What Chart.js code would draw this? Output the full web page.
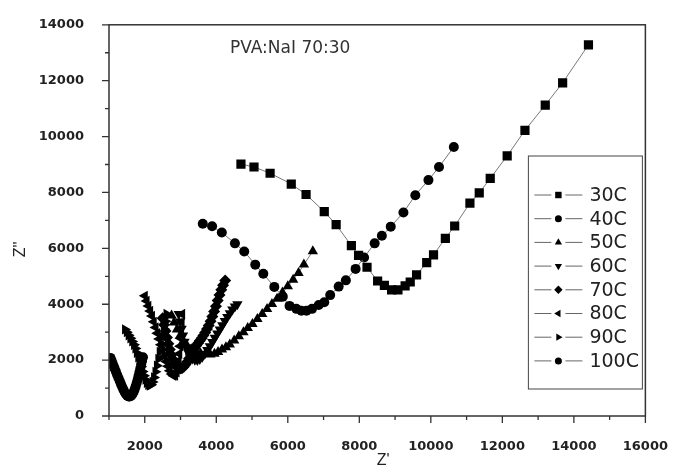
<!DOCTYPE html>
<html>
<head>
<meta charset="utf-8">
<script src="https://cdn.jsdelivr.net/npm/chart.js@4.4.1/dist/chart.umd.min.js"></script>
<style>
  html, body { margin: 0; padding: 0; background: #fff; }
  #wrap { width: 683px; height: 476px; }
</style>
</head>
<body>
<div id="wrap"><canvas id="mycanvas" width="683" height="476"></canvas></div>
<script>
// values (Z' , Z'')
var labels = ["30C", "40C", "50C", "60C", "70C", "80C", "90C", "100C"];
var markers = ["rect", "circle", "triangle", "triangle", "rectRot", "triangle", "triangle", "circle"];
var rotations = [0, 0, 0, 180, 0, 270, 90, 0];

var z30x = [4690,5055,5505,6097,6511,7020,7352,7778,7979,8216,8512,8701,8903,9080,9281,9424,9601,9885,10075,10406,10667,11093,11354,11661,12135,12632,13200,13686,14408];
var z30y = [9017,8911,8688,8301,7926,7316,6847,6097,5745,5323,4831,4678,4514,4514,4655,4795,5053,5487,5769,6355,6800,7621,7985,8501,9310,10224,11127,11924,13284];

var z40x = [3622,3883,4155,4522,4782,5090,5315,5623,5860,6049,6239,6381,6523,6677,6866,7020,7186,7423,7624,7896,8133,8429,8630,8879,9234,9566,9933,10229,10643];
var z40y = [6883,6789,6566,6179,5886,5417,5089,4620,4268,3940,3834,3764,3764,3834,3975,4069,4327,4631,4854,5264,5675,6179,6448,6777,7281,7903,8442,8911,9626];

var z50x = [2750,2820,2900,2990,3080,3180,3300,3430,3560,3700,3834,3950,4050,4160,4270,4378,4500,4630,4760,4880,5012,5150,5285,5420,5557,5700,5850,6000,6150,6300,6450,6700];
var z50y = [3600,3350,3100,2880,2680,2520,2390,2290,2240,2220,2200,2230,2290,2380,2460,2560,2700,2850,3000,3150,3294,3470,3650,3830,4005,4200,4420,4640,4880,5120,5420,5900];

var z60x = [2950,2990,3030,3070,3110,3160,3210,3270,3330,3400,3470,3540,3610,3680,3750,3820,3890,3960,4030,4100,4170,4240,4310,4380,4450,4520,4590];
var z60y = [3650,3380,3120,2880,2660,2450,2280,2150,2060,2010,2000,2040,2120,2230,2360,2500,2650,2800,2950,3100,3250,3400,3540,3680,3810,3920,4000];

var z70x = [2500,2540,2580,2620,2660,2700,2740,2790,2840,2890,2940,2990,3040,3090,3140,3190,3240,3290,3340,3390,3440,3490,3540,3590,3640,3690,3740,3790,3840,3890,3940,3990,4040,4090,4140,4190,4250];
var z70y = [3500,3270,3040,2810,2590,2380,2190,2020,1880,1780,1720,1700,1710,1760,1840,1940,2060,2180,2300,2410,2510,2600,2690,2780,2880,2990,3110,3240,3390,3560,3740,3930,4130,4330,4520,4680,4850];

var z80x = [2000,2050,2100,2150,2200,2250,2300,2350,2400,2450,2500,2550,2600,2650,2700,2750,2800,2850,2890,2920,2945,2965,2985,3000,3015,3030,3045];
var z80y = [4300,4120,3940,3760,3580,3370,3170,2960,2760,2550,2340,2140,1950,1780,1620,1500,1440,1450,1560,1750,1980,2230,2500,2780,3060,3350,3650];

var z90x = [1450,1500,1550,1600,1650,1700,1740,1780,1820,1860,1900,1940,1980,2020,2060,2100,2140,2180,2220,2260,2300,2340,2380,2420,2460,2500,2540,2580,2610];
var z90y = [3100,3000,2890,2780,2670,2550,2420,2260,2100,1930,1760,1590,1440,1300,1190,1120,1090,1120,1220,1380,1580,1800,2040,2290,2560,2830,3110,3390,3650];

var z100x = [1040,1070,1100,1130,1160,1195,1230,1265,1300,1335,1370,1405,1440,1475,1510,1545,1580,1615,1650,1685,1715,1745,1775,1800,1825,1850,1875,1900,1925,1950];
var z100y = [2080,1990,1890,1790,1690,1580,1470,1360,1250,1140,1040,940,850,780,730,700,700,720,770,850,950,1060,1180,1300,1430,1560,1700,1840,1970,2100];

var allX = [z30x, z40x, z50x, z60x, z70x, z80x, z90x, z100x];
var allY = [z30y, z40y, z50y, z60y, z70y, z80y, z90y, z100y];

var radii = [6.5, 5, 6, 6, 6, 6, 6, 5];

var datasets = [];
for (var i in labels) {
	var pts = [];
	for (var j in allX[i]) {
		pts.push({x: allX[i][j], y: allY[i][j]});
	}
	datasets.push({
		label: labels[i],
		data: pts,
		showLine: true,
		borderColor: "#777",
		borderWidth: 1,
		backgroundColor: "#000",
		pointBackgroundColor: "#000",
		pointBorderColor: "#000",
		pointBorderWidth: 0,
		pointStyle: markers[i],
		rotation: rotations[i],
		pointRadius: radii[i],
		pointHoverRadius: radii[i]
	});
}

var tickFont = {family: "DejaVu Sans", size: 13, weight: "bold"};

var framePlugin = {
	id: "frame",
	afterDraw: function(chart) {
		var ctx = chart.ctx;
		var a = chart.chartArea;
		var xs = chart.scales.x, ys = chart.scales.y;
		ctx.save();
		ctx.strokeStyle = "#333";
		ctx.lineWidth = 1.5;
		ctx.strokeRect(a.left, a.top, a.right - a.left, a.bottom - a.top);

		// major / minor ticks
		ctx.lineWidth = 1.3;
		ctx.beginPath();
		for (var v = 0; v <= 14000; v += 1000) {
			var py = ys.getPixelForValue(v);
			var len = (v % 2000 === 0) ? 7 : 4;
			ctx.moveTo(a.left - len, py);
			ctx.lineTo(a.left, py);
		}
		for (var u = 1000; u <= 16000; u += 1000) {
			var px = xs.getPixelForValue(u);
			var l2 = (u % 2000 === 0) ? 7 : 4;
			ctx.moveTo(px, a.bottom);
			ctx.lineTo(px, a.bottom + l2);
		}
		ctx.stroke();

		// axis titles
		ctx.fillStyle = "#222";
		ctx.font = "16px 'Liberation Sans', Arial, sans-serif";
		ctx.textAlign = "center";
		ctx.textBaseline = "middle";
		ctx.fillText("Z'", (a.left + a.right) / 2 + 6, 461);
		ctx.save();
		ctx.translate(21, (a.top + a.bottom) / 2 + 29);
		ctx.rotate(-Math.PI / 2);
		ctx.fillText("Z''", 0, 0);
		ctx.restore();

		// annotation
		ctx.font = "17px 'DejaVu Sans', sans-serif";
		ctx.fillStyle = "#333";
		ctx.textAlign = "left";
		ctx.fillText("PVA:NaI 70:30", 230, 49);

		// legend box
		var bx = a.right - 117, by = 156, bw = 114, bh = 233;
		ctx.fillStyle = "#fff";
		ctx.fillRect(bx, by, bw, bh);
		ctx.strokeStyle = "#444";
		ctx.lineWidth = 1;
		ctx.strokeRect(bx, by, bw, bh);
		ctx.font = "19px 'DejaVu Sans', sans-serif";
		for (var k = 0; k < chart.data.datasets.length; k++) {
			var ds = chart.data.datasets[k];
			var ly = 195 + k * 23.7;
			ctx.strokeStyle = "#666";
			ctx.lineWidth = 1;
			ctx.beginPath();
			ctx.moveTo(bx + 6, ly);
			ctx.lineTo(bx + 23, ly);
			ctx.moveTo(bx + 37, ly);
			ctx.lineTo(bx + 54, ly);
			ctx.stroke();
			ctx.fillStyle = "#000";
			ctx.strokeStyle = "#000";
			Chart.helpers.drawPoint(ctx, {
				pointStyle: ds.pointStyle,
				rotation: ds.rotation,
				radius: ds.pointRadius * 0.7,
				borderWidth: 0
			}, bx + 30, ly);
			ctx.fillStyle = "#222";
			ctx.textBaseline = "middle";
			ctx.fillText(ds.label, bx + 61, ly + 1);
		}
		ctx.restore();
	}
};

var ctx = document.getElementById("mycanvas");

var NyquistChart = new Chart(ctx, {
	type: "scatter",
	data: {datasets: datasets},
	options: {
		responsive: false,
		animation: false,
		layout: {padding: {left: 0, top: 22, right: 22, bottom: 0}},
		plugins: {
			legend: {display: false},
			tooltip: {enabled: false}
		},
		scales: {
			x: {
				type: "linear",
				min: 1000,
				max: 16000,
				grid: {display: false},
				border: {display: false},
				afterFit: function(scale) { scale.height = 60; },
				ticks: {
					stepSize: 1000,
					autoSkip: false,
					maxRotation: 0,
					padding: 15,
					color: "#222",
					font: tickFont,
					callback: function(v) { return (v % 2000 === 0) ? v : ""; }
				}
			},
			y: {
				type: "linear",
				min: 0,
				max: 14000,
				grid: {display: false},
				border: {display: false},
				afterFit: function(scale) { scale.width = 109; },
				ticks: {
					stepSize: 1000,
					autoSkip: false,
					padding: 17,
					color: "#222",
					font: tickFont,
					callback: function(v) { return (v % 2000 === 0) ? v : ""; }
				}
			}
		}
	},
	plugins: [framePlugin]
});
</script>
</body>
</html>
